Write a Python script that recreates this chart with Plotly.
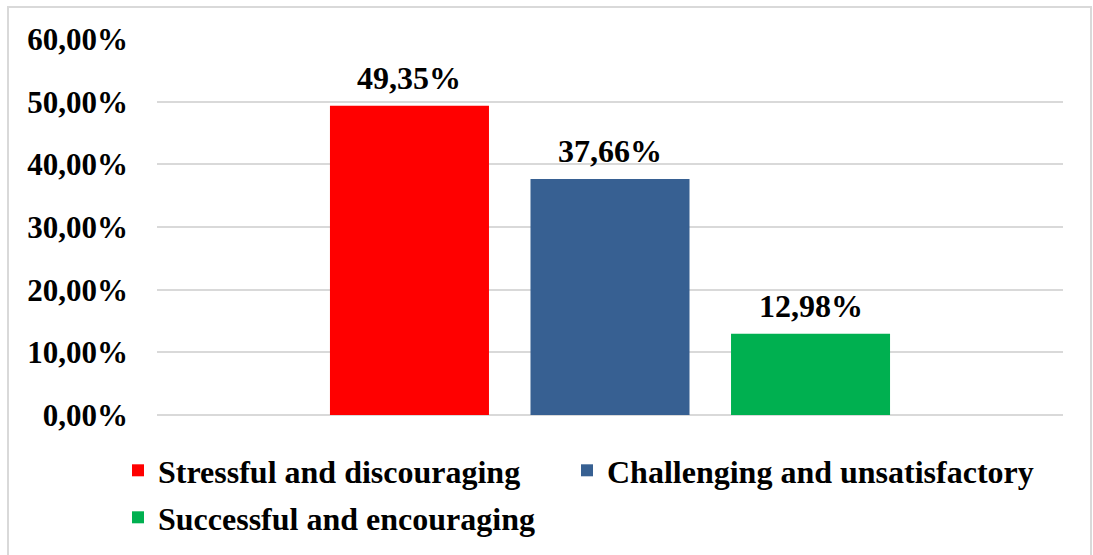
import plotly.graph_objects as go

# Survey result shares (percent)
categories = ["Stressful and discouraging", "Challenging and unsatisfactory", "Successful and encouraging"]
values = [49.35, 37.66, 12.98]
colors = ["#FF0000", "#376092", "#00B050"]
tick_values = [0, 10, 20, 30, 40, 50, 60]
tick_labels = [f"{v:.2f}%".replace(".", ",") for v in tick_values]

FONT = "Liberation Serif"
SIZE = 32
TICK_SIZE = 31
BARGAP, GROUPGAP = 0.336, 0.207
legend_ids = ["legend", "legend3", "legend2"]

fig = go.Figure()
for name, val, col, lg in zip(categories, values, colors, legend_ids):
    fig.add_trace(go.Bar(
        x=[""], y=[val], name=name,
        marker=dict(color=col, line=dict(width=0)),
        legend=lg,
        hovertemplate="%{y:.2f}%<extra>" + name + "</extra>",
    ))

# value labels above each bar, placed at the bar's slot within the group
slot = (1 - BARGAP) / len(values)
annotations = []
for i, val in enumerate(values):
    annotations.append(dict(
        x=(i - (len(values) - 1) / 2) * slot, xref="x", y=val, yref="y",
        text=f"{val:.2f}%".replace(".", ","), showarrow=False,
        yanchor="middle", yshift=28,
        font=dict(family=FONT, size=SIZE, color="black", weight="bold"),
    ))

W, H = 1093, 555
L, R, T, B = 157, 30, 39, 140
pw, ph = W - L - R, H - T - B

legend_font = dict(family=FONT, size=SIZE, color="black", weight="bold")


def legend_box(px, py):
    return dict(
        orientation="h", x=(px - L) / pw, xanchor="left",
        y=-(py - (H - B)) / ph, yanchor="top",
        font=legend_font, bgcolor="rgba(0,0,0,0)",
    )


fig.update_layout(
    width=W, height=H,
    margin=dict(l=L, r=R, t=T, b=B, autoexpand=False),
    paper_bgcolor="white", plot_bgcolor="white",
    barmode="group", bargap=BARGAP, bargroupgap=GROUPGAP,
    font=dict(family=FONT, size=SIZE, color="black", weight="bold"),
    showlegend=True,
    legend=legend_box(118, 443),
    legend3=legend_box(567, 443),
    legend2=legend_box(118, 490),
    xaxis=dict(showticklabels=False, showgrid=False, zeroline=False, showline=False, ticks=""),
    yaxis=dict(
        range=[0, 60], tickvals=tick_values, ticktext=tick_labels,
        showgrid=True, gridcolor="#D9D9D9", gridwidth=2,
        zeroline=True, zerolinecolor="#D9D9D9", zerolinewidth=2,
        showline=False, ticks="", ticklabelstandoff=28, automargin=False,
        tickfont=dict(family=FONT, size=TICK_SIZE, color="black", weight="bold"),
    ),
    annotations=annotations,
    shapes=[dict(
        type="rect", xref="paper", yref="paper",
        x0=(8 - L) / pw, x1=(1091 - L) / pw,
        y0=-(570 - (H - B)) / ph, y1=((H - B) - 7) / ph,
        line=dict(color="#D9D9D9", width=2), fillcolor="rgba(0,0,0,0)", layer="below",
    )],
)

fig.write_html("out.html")
